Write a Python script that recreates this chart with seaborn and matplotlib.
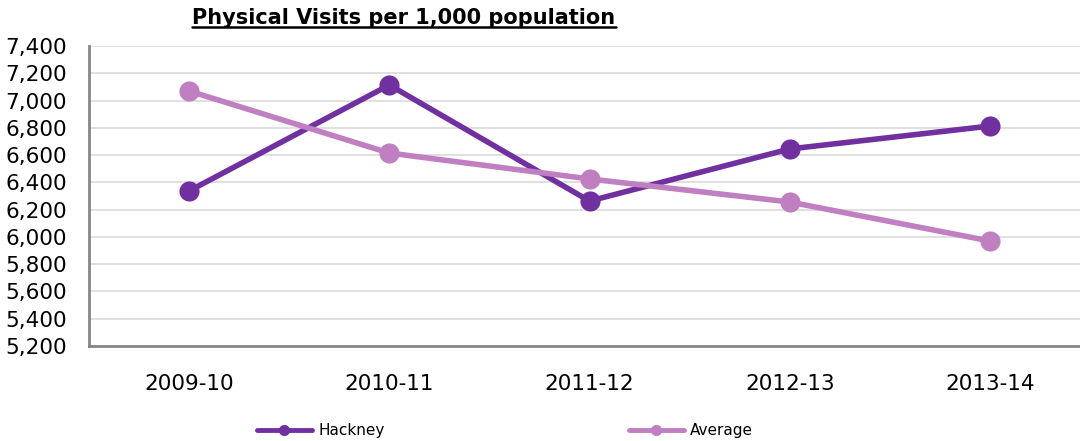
import numpy as np
import pandas as pd
import seaborn as sns
from matplotlib import pyplot as plt
from matplotlib.lines import Line2D

years = ['2009-10', '2010-11', '2011-12', '2012-13', '2013-14']
hackney = [6337, 7114, 6263, 6645, 6813]
average = [7070, 6615, 6425, 6256, 5970]
series_names = ['Hackney', 'Average']
y_ticks = list(range(5200, 7401, 200))

colors = {'Hackney': '#7030A0', 'Average': '#C07FC0'}

df = pd.DataFrame({
    'year': years * 2,
    'pos': list(range(len(years))) * 2,
    'value': hackney + average,
    'series': [series_names[0]] * len(years) + [series_names[1]] * len(years),
})

sns.set_style('white')
plt.rcParams['font.family'] = ['DejaVu Sans']
plt.rcParams['text.color'] = 'black'

fig = plt.figure(figsize=(10.8, 4.41), dpi=100)
ax = fig.add_axes([89 / 1080, 95 / 441, 1 - 89 / 1080, 300 / 441])

sns.lineplot(data=df, x='pos', y='value', hue='series', palette=colors,
             marker='o', markersize=14.5, markeredgewidth=0, linewidth=4,
             ax=ax, legend=False)

ax.set_xlim(-0.5, 4.45)
ax.set_ylim(5200, 7400)
ax.set_yticks(y_ticks)
ax.set_yticklabels([f'{v:,}' for v in y_ticks])
ax.set_xticks(range(len(years)))
ax.set_xticklabels(years)
ax.tick_params(axis='both', labelsize=15.5, length=0, colors='#000000')
ax.tick_params(axis='y', pad=16)
ax.tick_params(axis='x', pad=20)
ax.set_xlabel('')
ax.set_ylabel('')
ax.yaxis.grid(True, color='#DADADA', linewidth=1.2)
ax.set_axisbelow(True)
for side in ['top', 'right']:
    ax.spines[side].set_visible(False)
for side in ['left', 'bottom']:
    ax.spines[side].set_color('#868686')
    ax.spines[side].set_linewidth(2)

# title, bold and underlined
title = fig.text(404 / 1080, 1 - 18 / 441, 'Physical Visits per 1,000 population',
                 ha='center', va='center', fontsize=15, fontweight='bold', color='black')
fig.canvas.draw()
bb = title.get_window_extent().transformed(fig.transFigure.inverted())
fig.add_artist(Line2D([bb.x0, bb.x1], [bb.y0 + 0.002, bb.y0 + 0.002],
                      color='black', linewidth=1.8, transform=fig.transFigure))

handles = [Line2D([0], [0], color=colors[s], linewidth=3.5, marker='o',
                  markersize=7) for s in series_names]
fig.legend(handles, series_names, loc='center', bbox_to_anchor=(505 / 1080, 1 - 431 / 441),
           ncol=2, frameon=False, fontsize=11, handlelength=3.6, handletextpad=0.4,
           columnspacing=16, labelcolor='black')

fig.savefig('out.png', dpi=100)
